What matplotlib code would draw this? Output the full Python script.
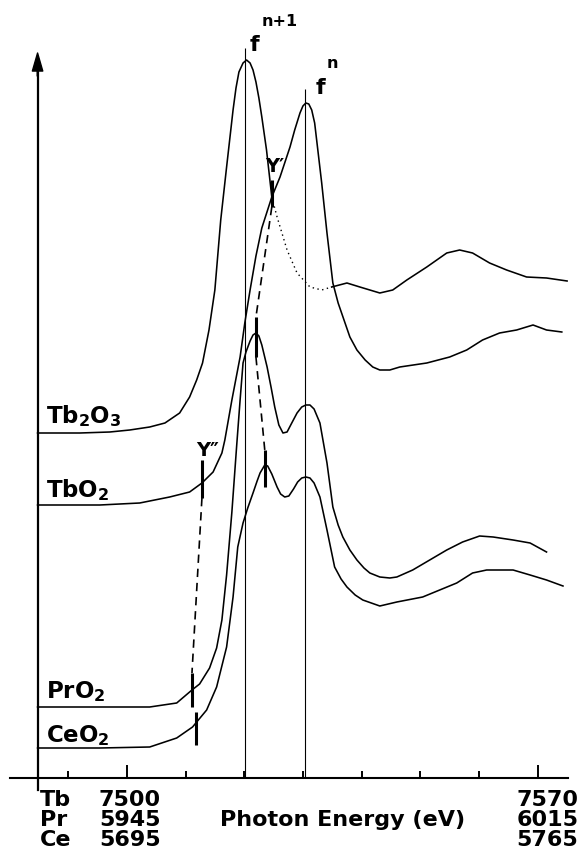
import numpy as np
import matplotlib.pyplot as plt

plt.rcParams['font.family'] = ['DejaVu Sans']
plt.rcParams['font.weight'] = 'bold'
plt.rcParams['mathtext.fontset'] = 'dejavusans'
plt.rcParams['lines.solid_joinstyle'] = 'round'

# photon energy on the Tb scale (eV), absorption in arb. units (curves offset)
tb2o3_e = [7484.8, 7492.0, 7497.1, 7500.5, 7503.9, 7506.5, 7509.0, 7510.7, 7511.9, 7512.9,
           7514.0, 7515.0, 7516.0, 7517.0, 7518.1, 7518.6, 7519.1, 7519.8, 7520.4, 7521.0,
           7521.5, 7522.0, 7522.5, 7523.0, 7523.8, 7524.7, 7525.6, 7527.3, 7529.0, 7531.2,
           7533.2, 7534.9, 7537.5, 7539.7, 7543.1, 7545.3, 7547.7, 7551.1, 7554.5, 7556.7,
           7558.9, 7561.8, 7564.7, 7568.1, 7571.5, 7575.0]
tb2o3_i = [345, 345, 346, 348, 351, 355, 365, 381, 398, 415,
           448, 488, 558, 611, 668, 690, 706, 715, 718, 715,
           708, 696, 680, 661, 628, 581, 561, 528, 505, 491,
           488, 491, 495, 491, 485, 488, 498, 511, 525, 528,
           525, 515, 508, 501, 500, 497]

tbo2_e = [7484.8, 7495.4, 7502.2, 7507.3, 7510.7, 7512.8, 7514.7, 7516.2, 7516.7, 7517.9,
          7519.3, 7520.1, 7521.0, 7522.0, 7523.0, 7524.7, 7526.1, 7527.8, 7528.6, 7529.5,
          7530.0, 7530.5, 7531.0, 7531.5, 7532.0, 7532.5, 7533.2, 7534.1, 7535.1, 7536.0,
          7538.0, 7539.2, 7540.6, 7541.9, 7543.1, 7544.8, 7546.5, 7551.1, 7555.0, 7557.9,
          7560.6, 7563.5, 7566.4, 7569.2, 7571.5, 7574.1]
tbo2_i = [273, 273, 275, 281, 286, 295, 306, 325, 338, 378,
          421, 455, 488, 522, 550, 581, 601, 631, 648, 665,
          672, 675, 674, 668, 655, 630, 595, 545, 495, 475,
          441, 428, 418, 411, 408, 408, 411, 415, 421, 428,
          438, 445, 448, 453, 448, 446]

pro2_e = [7484.8, 7495.4, 7503.9, 7508.5, 7511.1, 7512.4, 7514.1, 7515.3, 7516.2, 7517.0,
          7517.9, 7518.7, 7519.3, 7519.8, 7520.3, 7521.0, 7521.5, 7522.0, 7522.5, 7523.0,
          7523.9, 7524.6, 7525.2, 7525.9, 7526.6, 7527.3, 7528.1, 7529.0, 7529.8, 7530.5,
          7531.2, 7531.9, 7532.9, 7534.1, 7535.1, 7536.0, 7536.8, 7538.0, 7539.2, 7540.4,
          7541.4, 7543.1, 7544.8, 7546.0, 7548.7, 7551.6, 7554.5, 7557.2, 7560.1, 7562.4,
          7565.8, 7568.7, 7571.5]
pro2_i = [71, 71, 71, 75, 88, 94, 110, 130, 158, 203,
          266, 331, 378, 415, 426, 437, 443, 445, 442, 433,
          411, 390, 371, 353, 345, 346, 355, 365, 371, 373,
          373, 369, 355, 315, 271, 253, 241, 228, 218, 210,
          205, 201, 200, 201, 208, 218, 228, 236, 242, 241,
          238, 235, 226]

ceo2_e = [7484.8, 7495.4, 7503.9, 7508.5, 7511.2, 7513.6, 7515.3, 7517.0, 7518.1, 7518.9,
          7519.8, 7520.6, 7521.5, 7522.2, 7522.7, 7523.2, 7523.5, 7524.0, 7524.7, 7525.6,
          7526.2, 7526.9, 7527.6, 7528.4, 7529.1, 7529.8, 7530.5, 7531.2, 7531.9, 7532.9,
          7534.1, 7535.4, 7536.5, 7537.5, 7538.9, 7540.2, 7543.1, 7546.0, 7550.4, 7553.3,
          7556.2, 7558.9, 7561.3, 7565.8, 7568.7, 7571.5, 7574.3]
ceo2_i = [30, 30, 31, 40, 51, 68, 91, 131, 181, 231,
          255, 270, 285, 297, 305, 310, 313, 312, 304, 291,
          284, 281, 282, 289, 296, 300, 301, 300, 295, 281,
          248, 211, 199, 191, 183, 178, 172, 176, 181, 188,
          195, 205, 208, 208, 203, 198, 192]

# part of Tb2O3 drawn dotted (hidden behind TbO2)
dotted_from, dotted_to = 7524.7, 7534.9

# f^(n+1) and f^n reference lines
f_e = [7520.2, 7530.4]
f_top = [730, 689]

# short bold markers: Y', Y'', PrO2 peak, CeO2 peak, PrO2 edge, CeO2 edge
mark_e = [7524.7, 7512.8, 7522.0, 7523.5, 7511.1, 7511.8]
mark_lo = [571, 280, 421, 291, 71, 33]
mark_hi = [598, 318, 461, 328, 105, 66]

# dashed guides between markers
guide_e0 = [7524.7, 7522.0, 7512.8]
guide_i0 = [571, 421, 280]
guide_e1 = [7522.0, 7523.5, 7511.1]
guide_i1 = [461, 328, 105]

elements = ['Tb', 'Pr', 'Ce']
e_left = [7500, 5945, 5695]
e_right = [7570, 6015, 5765]

fig = plt.figure(figsize=(5.8, 8.52), dpi=100)
ax = fig.add_axes([0, 0, 1, 1])
ax.set_xlim(7478.4, 7577.2)
ax.set_ylim(-74, 778)

lw = 1.15
e = np.array(tb2o3_e)
i = np.array(tb2o3_i)
m1 = e <= dotted_from
m2 = (e >= dotted_from) & (e <= dotted_to)
m3 = e >= dotted_to
ax.plot(e[m1], i[m1], color='k', lw=lw)
ax.plot(e[m2], i[m2], color='k', lw=1.0, ls=(0, (1, 2.5)))
ax.plot(e[m3], i[m3], color='k', lw=lw)
ax.plot(tbo2_e, tbo2_i, color='k', lw=lw)
ax.plot(pro2_e, pro2_i, color='k', lw=lw)
ax.plot(ceo2_e, ceo2_i, color='k', lw=lw)

ax.vlines(f_e, 0, f_top, color='k', lw=0.8)
ax.vlines(mark_e, mark_lo, mark_hi, color='k', lw=2.2)
for a, b, c, d in zip(guide_e0, guide_i0, guide_e1, guide_i1):
    ax.plot([a, c], [b, d], color='k', lw=1.2, ls=(0, (5, 3.5)))

# axes
for s in ['top', 'right']:
    ax.spines[s].set_visible(False)
ax.spines['bottom'].set_position(('data', 0))
ax.spines['bottom'].set_bounds(7480.1, 7575.1)
ax.spines['left'].set_position(('data', 7484.8))
ax.spines['left'].set_bounds(-12, 706)
ax.spines['bottom'].set_linewidth(1.5)
ax.spines['left'].set_linewidth(1.6)
ax.annotate('', xy=(7484.8, 725), xytext=(7484.8, 702),
            arrowprops=dict(facecolor='k', edgecolor='k', width=0.5,
                            headwidth=7.5, headlength=13, shrink=0))
ax.set_xticks([7500, 7570])
ax.set_xticks(np.arange(7490, 7570, 10), minor=True)
ax.tick_params(axis='x', which='both', direction='in', labelbottom=False, width=1.4)
ax.tick_params(axis='x', which='major', length=9.5)
ax.tick_params(axis='x', which='minor', length=5)
ax.set_yticks([])

# annotations
ax.text(7521.7, 733, 'f', fontsize=16, ha='center', va='center')
ax.text(7526.1, 757, 'n+1', fontsize=11.5, ha='center', va='center')
ax.text(7532.9, 690, 'f', fontsize=16, ha='center', va='center')
ax.text(7535.1, 714, 'n', fontsize=11.5, ha='center', va='center')
ax.text(7525.2, 611, 'Y\u2032', fontsize=14, ha='center', va='center')
ax.text(7513.7, 328, 'Y\u2033', fontsize=14, ha='center', va='center')

lab_x = 7486.3
ax.text(lab_x, 355, r'$\mathbf{Tb_2O_3}$', fontsize=16.5, va='baseline')
ax.text(lab_x, 281, r'$\mathbf{TbO_2}$', fontsize=16.5, va='baseline')
ax.text(lab_x, 80, r'$\mathbf{PrO_2}$', fontsize=16.5, va='baseline')
ax.text(lab_x, 36, r'$\mathbf{CeO_2}$', fontsize=16.5, va='baseline')

rows = [-28, -48, -68]
for el, a, b, y in zip(elements, e_left, e_right, rows):
    ax.text(7485.2, y, el, fontsize=16, va='baseline')
    ax.text(7500.5, y, str(a), fontsize=16, ha='center', va='baseline')
    ax.text(7576.9, y, str(b), fontsize=16, ha='right', va='baseline')
ax.text(7536.7, rows[1], 'Photon Energy (eV)', fontsize=16, ha='center', va='baseline')

fig.savefig('out.png', dpi=100)
